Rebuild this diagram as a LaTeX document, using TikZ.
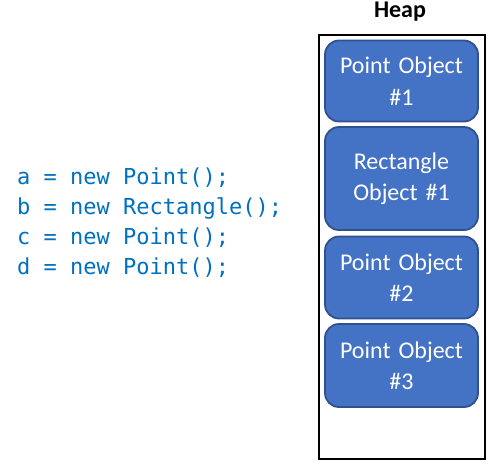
\documentclass[tikz,border=0pt]{standalone}
\usepackage{fontspec}
\setmainfont{Carlito}
\newfontfamily\codefont{DejaVu Sans Mono}
\definecolor{codeblue}{HTML}{0070C0}
\definecolor{objfill}{HTML}{4472C4}
\definecolor{objline}{HTML}{2F528F}
\begin{document}
\begin{tikzpicture}[x=1pt,y=-1pt,
  codeline/.style={anchor=base west,inner sep=0pt,text=codeblue,
    font=\codefont\fontsize{22}{26}\selectfont},
  heapobj/.style={draw=objline,line width=1.8pt,fill=objfill,rounded corners=14pt,
    minimum width=153pt,text width=150pt,align=center,text=white,inner sep=0pt,
    font=\fontsize{24}{31.5}\selectfont},
  heapframe/.style={draw=black,line width=2.6pt,minimum width=166pt,minimum height=424pt,inner sep=0pt}]
\useasboundingbox (0,0) rectangle (502,467);
% heap region and its title
\node[heapframe] (heap) at (402,247) {};
\node[font=\bfseries\fontsize{24}{28}\selectfont,inner sep=0pt] (title) at (400,12) {Heap};
% objects stacked inside the heap
\node[heapobj,minimum height=81pt] (p1) at (401.5,81) {Point Object\\\#1};
\node[heapobj,minimum height=103pt] (r1) at (401.5,178.5) {Rectangle\\Object \#1};
\node[heapobj,minimum height=82pt] (p2) at (401.5,277.5) {Point Object\\\#2};
\node[heapobj,minimum height=83pt] (p3) at (401.5,365.5) {Point Object\\\#3};
% allocation statements
\node[codeline] (la) at (17,184) {a = new Point();};
\node[codeline] (lb) at (17,214) {b = new Rectangle();};
\node[codeline] (lc) at (17,244) {c = new Point();};
\node[codeline] (ld) at (17,274) {d = new Point();};
\end{tikzpicture}
\end{document}
